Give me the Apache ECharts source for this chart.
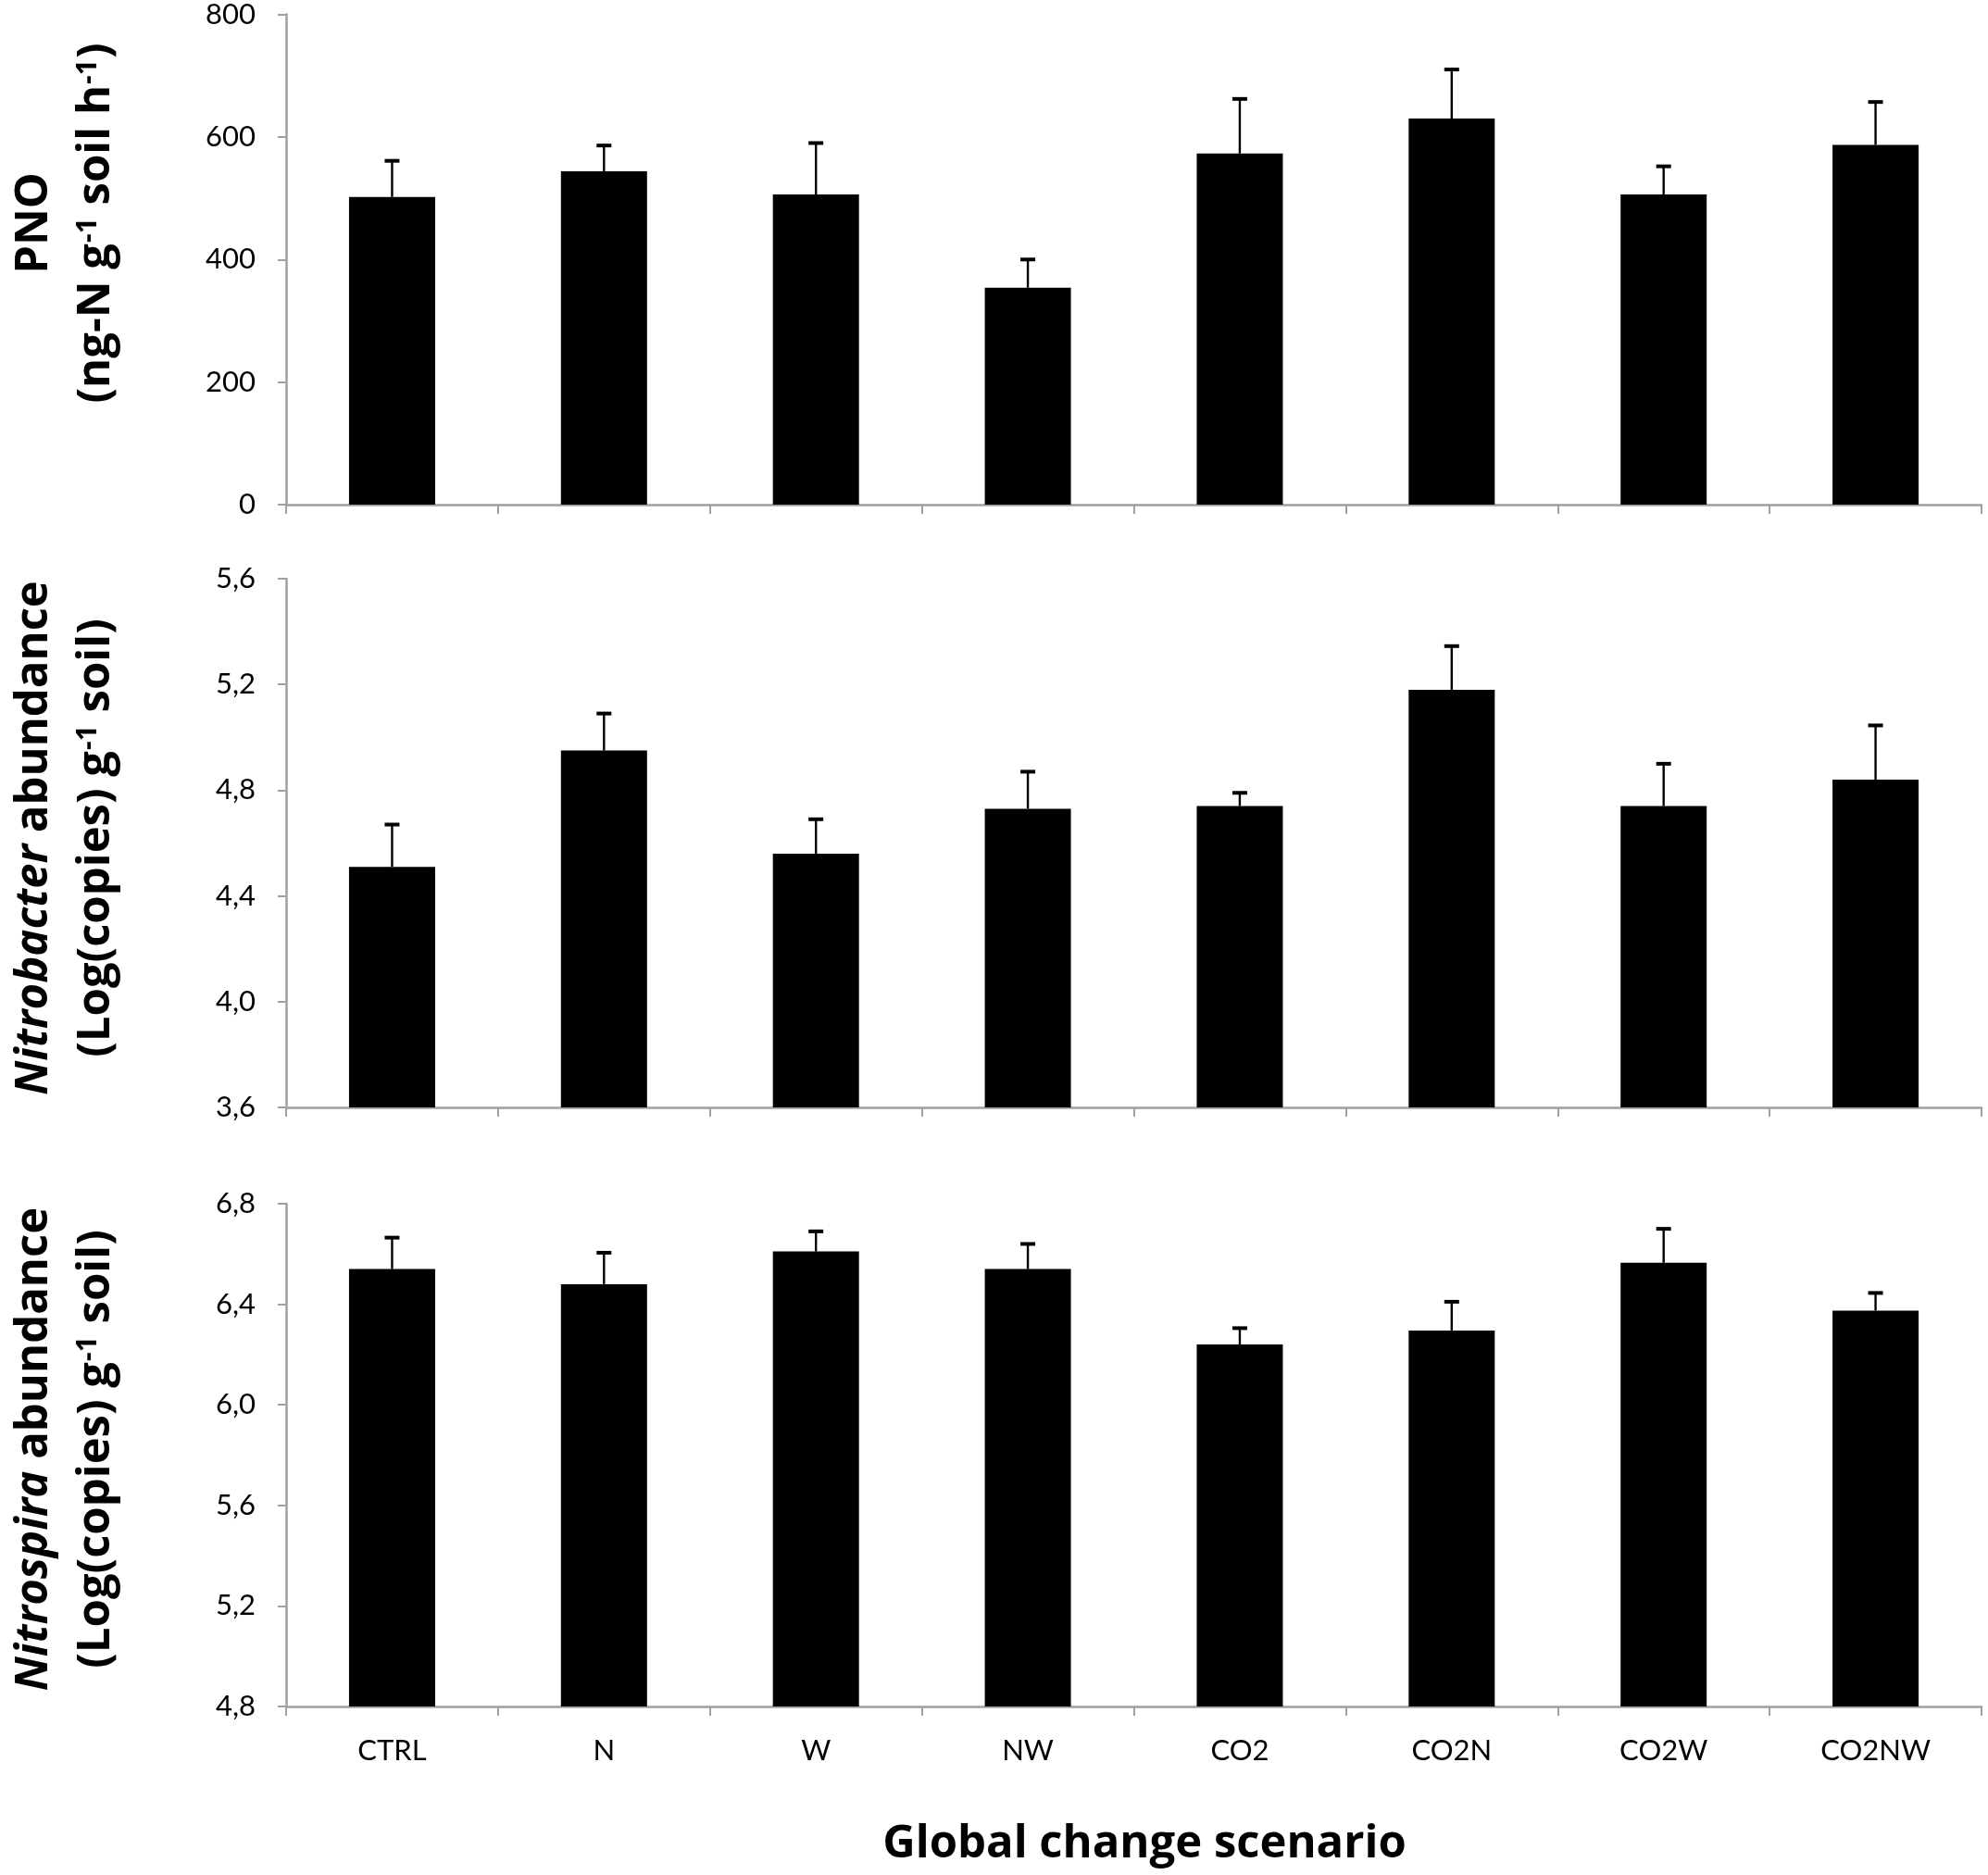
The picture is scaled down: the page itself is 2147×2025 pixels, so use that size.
<!DOCTYPE html>
<html>
<head>
<meta charset="utf-8">
<title>Nitrite oxidation by scenario</title>
<script src="https://cdn.jsdelivr.net/npm/echarts@6/dist/echarts.min.js"></script>
<style>
  html, body { margin: 0; padding: 0; background: #fff; }
  #chart { width: 2147px; height: 2025px; }
</style>
</head>
<body>
<div id="chart"></div>
<script>
// categories
const scenarios = ["CTRL", "N", "W", "NW", "CO2", "CO2N", "CO2W", "CO2NW"];

// PNO (ng-N g-1 soil h-1)
const pnoMean = [502, 544, 506, 354, 573, 630, 506, 587];
const pnoErr = [59, 42, 84, 46, 89, 80, 46, 70];

// Nitrobacter abundance, log copies
const nitrobacterMean = [4.51, 4.95, 4.56, 4.73, 4.74, 5.18, 4.74, 4.84];
const nitrobacterErr = [0.16, 0.14, 0.13, 0.14, 0.05, 0.165, 0.16, 0.205];

// Nitrospira abundance, log copies
const nitrospiraMean = [6.54, 6.48, 6.61, 6.54, 6.24, 6.295, 6.565, 6.375];
const nitrospiraErr = [0.125, 0.125, 0.08, 0.10, 0.065, 0.115, 0.135, 0.07];

// y ranges per panel
const yRanges = [
  { min: 0, max: 800, interval: 200 },
  { min: 3.6, max: 5.6, interval: 0.4 },
  { min: 4.8, max: 6.8, interval: 0.4 },
];

const FONT = "Lato, 'Open Sans', sans-serif";
const TITLE_FONT = "'Open Sans', Lato, sans-serif";
const AXIS_GREY = "#a0a0a0";

const myChart = echarts.init(document.getElementById("chart"));

const grids = [
  { left: 309, right: 7, top: 14, height: 531 },
  { left: 309, right: 7, top: 625, height: 571 },
  { left: 309, right: 7, top: 1300, height: 543 },
];

const xAxes = grids.map((g, i) => ({
  type: "category",
  gridIndex: i,
  data: scenarios,
  boundaryGap: true,
  axisLine: { lineStyle: { color: AXIS_GREY, width: 2.5 } },
  axisTick: { show: true, length: 10, lineStyle: { color: AXIS_GREY, width: 2 } },
  axisLabel: {
    show: i === 2,
    color: "#000",
    fontFamily: FONT,
    fontSize: 31,
    margin: 32,
  },
}));

const yAxes = yRanges.map((r, i) => ({
  type: "value",
  gridIndex: i,
  min: r.min,
  max: r.max,
  interval: r.interval,
  splitLine: { show: false },
  axisLine: { show: true, lineStyle: { color: AXIS_GREY, width: 2.5 } },
  axisTick: { show: true, length: 9, lineStyle: { color: AXIS_GREY, width: 2 } },
  axisLabel: {
    color: "#000",
    fontFamily: FONT,
    fontSize: 31,
    margin: 33,
    formatter: function (v) {
      return i === 0 ? String(Math.round(v)) : v.toFixed(1).replace(".", ",");
    },
  },
}));

// error bar renderer: upward whisker with cap
function errorBar(means, errs) {
  return function (params, api) {
    const idx = api.value(0);
    const base = api.coord([idx, means[idx]]);
    const top = api.coord([idx, means[idx] + errs[idx]]);
    const capHalf = 8;
    return {
      type: "group",
      children: [
        {
          type: "line",
          shape: { x1: base[0], y1: base[1], x2: top[0], y2: top[1] + 1 },
          style: { stroke: "#000", lineWidth: 2.4 },
        },
        {
          type: "line",
          shape: { x1: top[0] - capHalf, y1: top[1], x2: top[0] + capHalf, y2: top[1] },
          style: { stroke: "#000", lineWidth: 4 },
        },
      ],
    };
  };
}

const panels = [
  [pnoMean, pnoErr],
  [nitrobacterMean, nitrobacterErr],
  [nitrospiraMean, nitrospiraErr],
];

const series = [];
panels.forEach(([m, e], i) => {
  series.push({
    type: "bar",
    xAxisIndex: i,
    yAxisIndex: i,
    data: m,
    barWidth: 93,
    itemStyle: { color: "#000" },
    silent: true,
    z: 2,
  });
  series.push({
    type: "custom",
    xAxisIndex: i,
    yAxisIndex: i,
    data: m.map((v, k) => [k, v]),
    renderItem: errorBar(m, e),
    silent: true,
    clip: false,
    z: 3,
  });
});

// rotated two-line y titles
const titleRich = {
  b: { fontFamily: TITLE_FONT, fontWeight: "bold", fontSize: 49, fill: "#000", verticalAlign: "middle", lineHeight: 67 },
  bi: { fontFamily: TITLE_FONT, fontWeight: "bold", fontStyle: "italic", fontSize: 49, fill: "#000", verticalAlign: "middle", lineHeight: 67 },
  sup: { fontFamily: TITLE_FONT, fontWeight: "bold", fontSize: 30, fill: "#000", verticalAlign: "top", lineHeight: 30, padding: [9, 1, 0, 1] },
};

function yTitle(text, cy) {
  return {
    type: "text",
    x: 71,
    y: cy,
    rotation: Math.PI / 2,
    style: {
      text: text,
      rich: titleRich,
      align: "center",
      verticalAlign: "middle",
    },
  };
}

const option = {
  backgroundColor: "#fff",
  animation: false,
  grid: grids,
  xAxis: xAxes,
  yAxis: yAxes,
  series: series,
  graphic: [
    yTitle("{b|PNO}\n{b|(ng-N g}{sup|-1}{b| soil h}{sup|-1}{b|)}", 241),
    yTitle("{bi|Nitrobacter}{b| abundance}\n{b|(Log(copies) g}{sup|-1}{b| soil)}", 905),
    yTitle("{bi|Nitrospira}{b| abundance}\n{b|(Log(copies) g}{sup|-1}{b| soil)}", 1565),
    {
      type: "text",
      x: 1236,
      y: 1992,
      style: {
        text: "Global change scenario",
        fontFamily: TITLE_FONT,
        fontWeight: "bold",
        fontSize: 49,
        fill: "#000",
        align: "center",
        verticalAlign: "middle",
      },
    },
  ],
};

// 绘制图表
myChart.setOption(option);
window.onresize = function () {
  myChart.resize();
};
</script>
</body>
</html>
